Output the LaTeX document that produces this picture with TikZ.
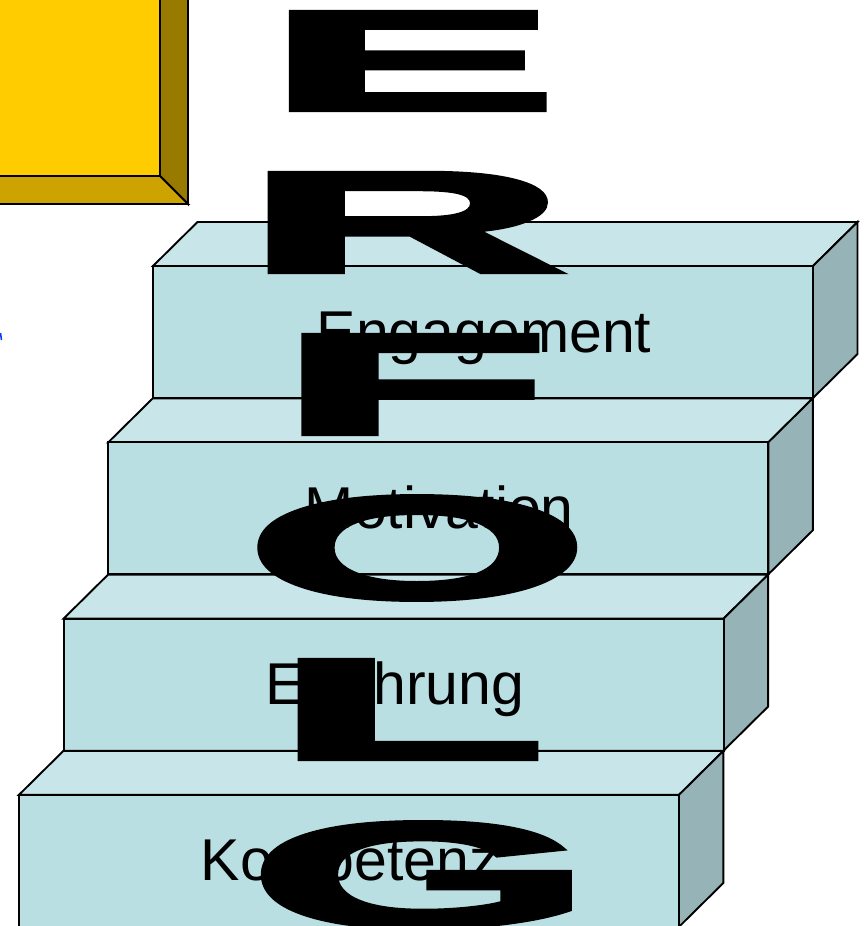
\documentclass[tikz,border=0pt]{standalone}
\usepackage{fontspec}
\setmainfont{Liberation Sans}
\newfontfamily\heavyfont[FakeBold=3]{Liberation Sans Bold}
\usepackage{graphicx}
\usetikzlibrary{positioning}

\definecolor{stepfront}{HTML}{B9DFE3}
\definecolor{steptopc}{HTML}{C8E6E9}
\definecolor{stepsidec}{HTML}{96B4B7}
\definecolor{boxfront}{HTML}{FFCC00}
\definecolor{boxbottom}{HTML}{CCA300}
\definecolor{boxright}{HTML}{997A00}

\begin{document}
\begin{tikzpicture}[
x=1pt, y=-1pt,
face/.style={draw=black, line width=1.9pt, line join=miter},
word/.style={anchor=base, inner sep=0pt, font=\fontsize{59}{60}\selectfont},
letter/.style={inner sep=0pt, font=\heavyfont}
]
\clip (0,0) rectangle (863,926);
\useasboundingbox (0,0) rectangle (863,926);

% yellow block top left
\draw[face, fill=boxright] (160,-5) -- (188,-5) -- (188,204) -- (160,176) -- cycle;
\draw[face, fill=boxbottom] (-5,176) -- (160,176) -- (188,204) -- (-5,204) -- cycle;
\draw[face, fill=boxfront] (-5,-5) rectangle (160,176);

\draw[blue!80!cyan, line width=1.5pt] (0.5,333) -- (1.5,340);

% the four steps
\foreach \i/\txt in {0/Engagement,1/Motivation,2/Erfahrung,3/Kompetenz}{
  \pgfmathsetmacro{\xl}{153-44.7*\i}
  \pgfmathsetmacro{\yt}{266+176.3*\i}
  \pgfmathsetmacro{\xr}{\xl+660}
  \pgfmathsetmacro{\yb}{\yt+132}
  \draw[face, fill=steptopc] (\xl,\yt) -- (\xl+44.5,\yt-44) -- (\xr+44.5,\yt-44) -- (\xr,\yt) -- cycle;
  \draw[face, fill=stepsidec] (\xr,\yt) -- (\xr+44.5,\yt-44) -- (\xr+44.5,\yb-44) -- (\xr,\yb) -- cycle;
  \draw[face, fill=stepfront] (\xl,\yt) rectangle (\xr,\yb);
  \node[word] (step\i) at (\xl+331,\yt+86) {\txt};
}

% ERFOLG
\foreach \ch/\w/\h/\cx/\cy in {E/290/98/411.7/61, R/321/99/405/222.5, F/270/99/413.7/384.5, O/342/102/417.5/548, L/270/99/410/709.5, G/342/104/421/875}{
  \node[letter] (let\ch) at (\cx,\cy) {\resizebox{\w pt}{\h pt}{\ch}};
}

\end{tikzpicture}
\end{document}
